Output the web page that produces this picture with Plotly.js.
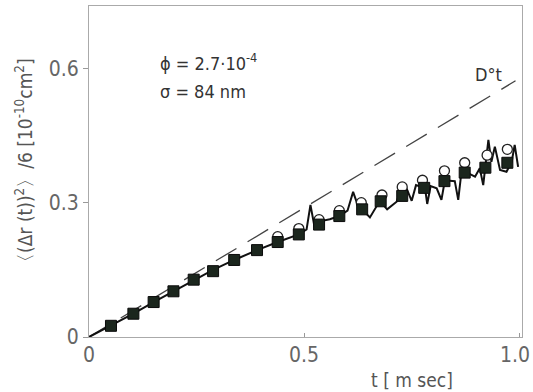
<!DOCTYPE html>
<html>
<head>
<meta charset="utf-8">
<script src="https://cdn.plot.ly/plotly-3.0.1.min.js"></script>
<style>html,body{margin:0;padding:0;background:#fff;}#chart{width:533px;height:392px;}</style>
</head>
<body>
<div id="chart"></div>
<script>
// filled squares
var sqT = [0.051, 0.103, 0.150, 0.196, 0.243, 0.288, 0.337, 0.390, 0.438, 0.487, 0.534, 0.581, 0.634, 0.677, 0.727, 0.778, 0.825, 0.872, 0.920, 0.971];
var sqY = [0.025, 0.052, 0.078, 0.102, 0.128, 0.147, 0.172, 0.194, 0.212, 0.229, 0.251, 0.270, 0.285, 0.303, 0.315, 0.333, 0.348, 0.367, 0.378, 0.389];
// open circles
var ciT = [0.438, 0.487, 0.534, 0.581, 0.632, 0.680, 0.727, 0.774, 0.825, 0.872, 0.924, 0.971];
var ciY = [0.224, 0.242, 0.262, 0.282, 0.300, 0.317, 0.335, 0.350, 0.371, 0.389, 0.406, 0.419];
// simulation curve
var lineT = [0, 0.051, 0.103, 0.150, 0.196, 0.243, 0.288, 0.337, 0.390, 0.438, 0.487, 0.505, 0.514, 0.524, 0.534, 0.544, 0.559, 0.581, 0.600, 0.613, 0.629, 0.634, 0.652, 0.675, 0.692, 0.714, 0.722, 0.737, 0.749, 0.759, 0.780, 0.785, 0.793, 0.807, 0.818, 0.826, 0.849, 0.857, 0.865, 0.896, 0.907, 0.915, 0.927, 0.934, 0.942, 0.954, 0.969, 0.981, 0.988, 0.996];
var lineY = [0, 0.025, 0.052, 0.078, 0.102, 0.128, 0.150, 0.172, 0.194, 0.212, 0.229, 0.240, 0.295, 0.243, 0.252, 0.260, 0.263, 0.270, 0.282, 0.324, 0.280, 0.285, 0.267, 0.304, 0.285, 0.302, 0.324, 0.332, 0.304, 0.339, 0.332, 0.297, 0.337, 0.332, 0.306, 0.350, 0.348, 0.306, 0.373, 0.358, 0.377, 0.339, 0.440, 0.391, 0.425, 0.373, 0.369, 0.391, 0.429, 0.380];
// free diffusion D0 t
var dT = [0, 0.99];
var dY = [0, 0.572];
var xTicks = [0, 0.5, 1.0];
var xTickText = ['0', '0.5', '1.0'];
var yTicks = [0, 0.3, 0.6];
var yTickText = ['0', '0.3', '0.6'];

var FONT = 'DejaVu Sans Condensed, Liberation Sans Narrow, sans-serif';

var traces = [
  {x: dT, y: dY, mode: 'lines', line: {color: '#444', width: 1.3, dash: '24px,13px'}, hoverinfo: 'skip'},
  {x: lineT, y: lineY, mode: 'lines', line: {color: '#111', width: 2}, hoverinfo: 'skip'},
  {x: ciT, y: ciY, mode: 'markers', marker: {symbol: 'circle', size: 10, color: '#fff', line: {color: '#222', width: 1.3}}},
  {x: sqT, y: sqY, mode: 'markers', marker: {symbol: 'square', size: 11, color: '#1b261d', line: {color: '#0a0a0a', width: 1}}}
];

// x tick labels drawn as annotations so the last one stays inside the page
var xLabelAnns = xTicks.map(function (v, i) {
  return {xref: 'x', yref: 'paper', x: v, y: 0, yanchor: 'top', yshift: -4,
          xanchor: 'center', xshift: (i === xTicks.length - 1) ? -5 : 0,
          showarrow: false, text: xTickText[i], font: {size: 21, color: '#666', family: FONT}};
});

var layout = {
  width: 533, height: 392,
  margin: {l: 89, r: 11, t: 6, b: 55},
  paper_bgcolor: '#fff', plot_bgcolor: '#fff',
  showlegend: false,
  font: {family: FONT, color: '#666'},
  xaxis: {
    range: [0, 1.005], tickvals: xTicks, ticktext: xTickText, showticklabels: false,
    ticks: 'inside', ticklen: 4, tickcolor: '#999',
    showline: true, linecolor: '#aaa', linewidth: 1, mirror: true,
    showgrid: false, zeroline: false
  },
  yaxis: {
    range: [0, 0.739], tickvals: yTicks, ticktext: yTickText,
    ticks: 'outside', ticklen: 5, tickcolor: '#999',
    showline: true, linecolor: '#aaa', linewidth: 1, mirror: true,
    showgrid: false, zeroline: false,
    tickfont: {size: 21, color: '#666', family: FONT}
  },
  annotations: xLabelAnns.concat([
    {xref: 'paper', yref: 'paper', x: -0.15, y: 0.52, xanchor: 'center', yanchor: 'middle', textangle: -90, showarrow: false,
     text: '〈(Δr (t))<sup>2</sup>〉/6 [10<sup>-10</sup>cm<sup>2</sup>]', font: {size: 19, color: '#555', family: FONT}},
    {xref: 'paper', yref: 'paper', x: 0.745, y: -0.13, xanchor: 'center', yanchor: 'middle', showarrow: false,
     text: 't [ m sec]', font: {size: 19, color: '#555', family: FONT}},
    {xref: 'x', yref: 'y', x: 0.16, y: 0.615, xanchor: 'left', yanchor: 'middle', showarrow: false,
     text: 'ϕ = 2.7·10<sup>-4</sup>', font: {size: 18, color: '#333', family: FONT}},
    {xref: 'x', yref: 'y', x: 0.16, y: 0.548, xanchor: 'left', yanchor: 'middle', showarrow: false,
     text: 'σ = 84 nm', font: {size: 18, color: '#333', family: FONT}},
    {xref: 'x', yref: 'y', x: 0.892, y: 0.587, xanchor: 'left', yanchor: 'middle', showarrow: false,
     text: 'D°t', font: {size: 18, color: '#333', family: FONT}}
  ])
};

Plotly.newPlot('chart', traces, layout, {displayModeBar: false, staticPlot: true});
</script>
</body>
</html>
